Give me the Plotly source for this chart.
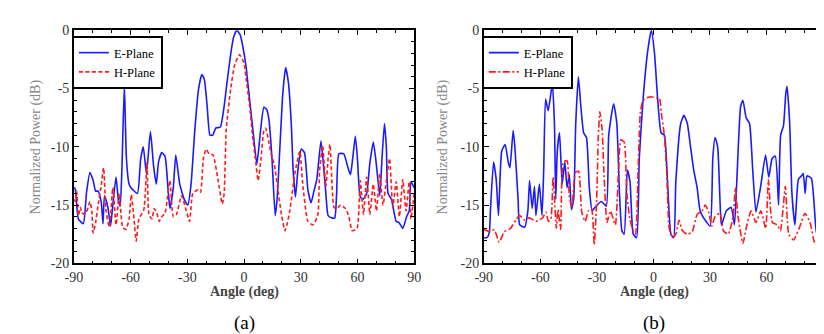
import plotly.graph_objects as go

# ---------------- data ----------------
tick_vals_x = [-90, -60, -30, 0, 30, 60, 90]
tick_text_x = ["-90", "-60", "-30", "0", "30", "60", "90"]
tick_vals_y = [-20, -15, -10, -5, 0]
tick_text_y = ["-20", "-15", "-10", "-5", "0"]

# (a) E-Plane
ang_ea = [-90, -89.3, -87.6, -85, -83.3, -81.5, -79.8, -78.5, -77.2, -75.5,
          -74.6, -73.8, -72, -70.6, -69.4, -67.7, -66.5, -65.5, -64.6, -63.3,
          -62.2, -60.8, -59.9, -56.4, -54.7, -53.3, -51.6, -49.5, -47.8, -46.4,
          -45.2, -43.5, -41.8, -40.1, -39.2, -37.4, -36.1, -34, -31.4, -29.7,
          -28, -26, -24, -22.3, -21, -19.5, -18, -16.5, -15, -12.5,
          -10.5, -9, -7, -5.5, -3.8, -2, -0.5, 1, 3, 5,
          6.8, 8.5, 10.5, 12, 13.3, 14.8, 16.5, 17.5, 19, 20.5,
          22, 23.5, 25, 26, 27.2, 28.5, 30.3, 32, 33.8, 35.5,
          37, 38.5, 40.7, 42, 43.3, 44.5, 46.5, 48, 49, 50.2,
          52.8, 54.5, 56.3, 57.5, 58.9, 60, 61.5, 63, 64.9, 66.5,
          68.4, 70, 71.8, 73, 74.3, 75.3, 76.2, 78, 80.5, 82,
          84, 86, 87.4, 88.3, 90]
val_ea = [-13.5, -13.6, -16.2, -16.6, -13.9, -12.2, -12.9, -13.8, -13.8, -14.8,
          -16.6, -14.2, -15.2, -16.8, -15, -12.6, -14.5, -15.1, -12, -4.7,
          -11, -13.2, -13.5, -14.0, -11.1, -10, -12.3, -8.7, -11.7, -13.2,
          -11.3, -10.5, -10.8, -13.8, -15.3, -13.5, -10.7, -13.2, -14.6, -15,
          -13.2, -8.5, -5, -3.8, -4.2, -6.5, -9, -9, -8.4, -8.3,
          -6.5, -4.5, -2, -0.6, 0, -0.4, -1.5, -3, -6, -9,
          -11.5, -9, -6.6, -6.8, -7.8, -11, -15.9, -14.5, -10, -5.5,
          -3.2, -4.5, -8, -12, -14.3, -12, -10.2, -10.5, -13.7, -14.8,
          -13.8, -12.8, -9.5, -11.5, -14, -15.9, -16.1, -16.1, -14, -10.6,
          -10.6, -11.5, -12.4, -11, -9.1, -11, -14.3, -14.5, -14, -11.5,
          -9.6, -11.5, -14.2, -11, -8.0, -10, -14, -14.5, -16.4, -16.5,
          -17, -16, -15.5, -13, -13.5]

# (a) H-Plane
ang_ha = [-90, -89.3, -88.5, -87.6, -86.5, -85.9, -84.5, -83.3, -81.5, -80.5,
          -79.8, -78.5, -77.2, -75.5, -74.3, -72.9, -71.2, -69.4, -67.7, -66,
          -64.2, -62.5, -60.8, -59.6, -58.2, -57, -55.6, -53, -51.3, -50.3,
          -48.7, -47.5, -46.1, -44.8, -43.5, -41.8, -39.2, -37.4, -35.7, -33.1,
          -30.5, -28.8, -27.1, -24.5, -23, -21.5, -20, -18.5, -16.4, -13.8,
          -11.5, -10.5, -9.4, -7, -5, -2.4, 0, 1, 3, 4.5,
          6, 7.5, 9, 10.5, 11.5, 13, 14.5, 16, 18.2, 20,
          21.7, 23, 24.3, 26.9, 29.5, 31.2, 33.8, 36.4, 39, 40,
          41.6, 43.3, 44.5, 45.5, 47.6, 49, 51.1, 53.7, 55.5, 57.2,
          59.8, 61.5, 63.2, 64.9, 66.6, 68.4, 70.1, 71.8, 73.5, 75.3,
          77, 78.7, 80.5, 82.2, 84, 85.7, 87.4, 88.3, 90]
val_ha = [-14.5, -14.7, -13.8, -15.9, -15.2, -15.6, -15.8, -15.6, -14.7, -15.5,
          -17.4, -16.5, -15, -13.3, -11.8, -15.6, -16.9, -13.5, -16.7, -14,
          -16.9, -17.1, -16.2, -14.1, -16.2, -18.1, -16.2, -15.4, -11.3, -15.8,
          -16.2, -15.3, -15.7, -16.4, -16, -15.7, -12.9, -16, -15.8, -14.2,
          -15.5, -16.4, -14, -13.7, -13.9, -11, -10.2, -10.6, -10.7, -12.8,
          -14.9, -14, -8.5, -5, -3, -2.1, -2.8, -4, -6.5, -9,
          -11, -12.9, -11, -8.6, -8.4, -9.5, -10.7, -11.5, -14, -16,
          -17.2, -16.5, -15.4, -12.3, -10.4, -13.4, -16.4, -16.7, -15.9, -12,
          -9.9, -13.4, -11, -9.8, -15.2, -15.3, -15.0, -15.3, -16, -17.2,
          -17, -12.9, -15.8, -12.6, -15.8, -13.2, -15.5, -12.3, -15, -13,
          -11.0, -15.2, -13, -16, -12.8, -15.5, -13, -16.2, -14]

# (b) E-Plane
ang_eb = [-90, -88.3, -87, -86.5, -84.8, -83.4, -82.2, -80.5, -78.7, -77,
          -76.1, -74.4, -73.5, -71.8, -70.9, -68.3, -66.6, -65.7, -64.3, -63.1,
          -62.3, -60.5, -59.1, -58.2, -57.2, -55.8, -53.6, -52.5, -51.8, -51,
          -49.8, -48.4, -47, -45.8, -44.6, -43.5, -42.3, -41.2, -39.8, -38.5,
          -37, -35.5, -34, -32.5, -31, -27.6, -25, -23.7, -21.1, -19.4,
          -18, -16.7, -15.5, -13.8, -12.4, -10.7, -8.9, -7.5, -5.5, -3.2,
          -1.1, 0.6, 2.3, 4.1, 5.8, 7.5, 9.3, 10.8, 11.9, 14.5,
          16.2, 18, 19.7, 21.4, 23.2, 24.8, 27.5, 30.1, 31.5, 32.7,
          34.1, 35.3, 36.1, 38.7, 41.3, 43, 44.5, 46.3, 47.5, 49.2,
          51, 52.7, 54.4, 56.9, 59.5, 61.2, 63, 64.7, 66.4, 67.5,
          69, 70.2, 70.9, 72.3, 73.5, 75.1, 76.9, 78.5, 79.5, 80.5,
          81.5, 83.8, 86.4, 88, 90]
val_eb = [-17.8, -17.8, -17.3, -15.6, -11.3, -12.8, -15.9, -10.4, -9.8, -11.3,
          -11.8, -8.6, -10, -14.5, -16.7, -16.9, -15.5, -12.9, -15.3, -13.4,
          -15.9, -13.2, -15.9, -12, -5.9, -6.9, -4.6, -8, -14.5, -10.4,
          -8.8, -13.2, -11.3, -13.5, -12.4, -15.4, -14.5, -8, -4.0, -6.5,
          -8.8, -9.2, -13.5, -15.5, -15.2, -14.7, -15.1, -9, -6.3, -8,
          -14, -17.2, -17.5, -12, -13, -17.5, -17.8, -11, -6, -2,
          0, -2, -6, -8.8, -9, -13, -17.5, -17.8, -13, -8,
          -7.3, -8, -10, -12, -13.5, -15.5, -16.3, -16.8, -11, -9.2,
          -10, -14.5, -16.7, -15.5, -15.2, -16.7, -12, -6.5, -6, -7.5,
          -8, -12, -15.6, -13.4, -10.7, -12.6, -11, -10.8, -15.0, -9,
          -8.2, -5.5, -4.8, -8, -14, -16.7, -12.8, -12.5, -12.3, -14,
          -12.5, -12.7, -17.4, -13, -12.3]

# (b) H-Plane
ang_hb = [-90, -88.3, -86.5, -84.4, -81.8, -79.2, -75.8, -72.7, -70.9, -68.3,
          -65.7, -62.3, -58.8, -57, -55.7, -54.4, -53.2, -51.5, -50.6, -49.2,
          -47.8, -45.8, -44.6, -43.2, -41.4, -39.7, -38, -36.2, -34.5, -32.8,
          -31.4, -30.2, -29.2, -28.4, -27.2, -26.3, -24.6, -22.8, -20.2, -18.5,
          -17.3, -15.5, -14.1, -12.4, -10.7, -9.5, -8.1, -6.9, -5.5, -3.7,
          -1.1, 1.5, 3.2, 4.1, 5.8, 7, 8.4, 10.2, 11.9, 13.6,
          15.4, 18, 20.6, 23.2, 25.8, 27.5, 29.3, 31, 32.7, 35.3,
          37.1, 39.7, 42.3, 43.5, 44.9, 47.5, 49.2, 51.8, 54.4, 57,
          59.6, 61, 63.1, 65.7, 67.4, 70, 71.8, 74.4, 77.8, 80.4,
          83.1, 85.7, 88.3, 90]
val_hb = [-17.1, -17.2, -17.3, -17.1, -18.2, -17.3, -17, -16.2, -15.9, -16.3,
          -16.1, -16.4, -16.1, -15.6, -16.4, -16.2, -12.6, -17, -15.4, -17.1,
          -11.3, -11.2, -14.3, -15.2, -12.2, -12.1, -15.6, -16.4, -15.5, -15.3,
          -18.4, -15, -9, -7, -8.5, -12, -16.5, -15.5, -16.7, -12,
          -9.4, -9.6, -14, -16.3, -17.2, -17.5, -12, -7, -6, -5.8,
          -5.7, -5.8, -5.8, -7, -9, -12, -17, -17.8, -17.5, -16.3,
          -17.2, -17.5, -17.3, -15.8, -15.5, -15, -15.6, -16.8, -16, -15.7,
          -17.2, -17.5, -16, -13.5, -16, -18.3, -17, -15.5, -16.5, -15.5,
          -17, -12.8, -16.5, -16.7, -17.2, -13.4, -17.5, -18, -16.8, -15.7,
          -16.5, -18.3, -18.5, -17.5]

# ---------------- figure ----------------
FONT = "Times New Roman, Liberation Serif, Tinos, DejaVu Serif, serif"
BLUE = "#1a1aff"
RED = "#ff1a1a"

fig = go.Figure()
fig.add_trace(go.Scatter(x=ang_ea, y=val_ea, name="E-Plane", mode="lines",
                         line=dict(color=BLUE, width=1.6, shape="spline", smoothing=0.5),
                         xaxis="x", yaxis="y", legend="legend"))
fig.add_trace(go.Scatter(x=ang_ha, y=val_ha, name="H-Plane", mode="lines",
                         line=dict(color=RED, width=1.6, dash="4px,2.5px", shape="spline", smoothing=0.5),
                         xaxis="x", yaxis="y", legend="legend"))
fig.add_trace(go.Scatter(x=ang_eb, y=val_eb, name="E-Plane", mode="lines",
                         line=dict(color=BLUE, width=1.6, shape="spline", smoothing=0.5),
                         xaxis="x2", yaxis="y2", legend="legend2"))
fig.add_trace(go.Scatter(x=ang_hb, y=val_hb, name="H-Plane", mode="lines",
                         line=dict(color=RED, width=1.6, dash="7px,2.5px,2px,2.5px", shape="spline", smoothing=0.5),
                         xaxis="x2", yaxis="y2", legend="legend2"))

W, H = 824, 334
ydom = [1 - 260 / H, 1 - 16 / H]


def xax(domain, anchor):
    return dict(domain=domain, anchor=anchor, range=[-90, 90], tickvals=tick_vals_x, ticktext=tick_text_x,
                showline=True, linecolor="black", linewidth=1.5, mirror="ticks", ticks="inside",
                ticklen=5, tickwidth=1.3, tickcolor="black", showgrid=False, zeroline=False,
                tickfont=dict(family=FONT, size=14, color="#333"),
                minor=dict(dtick=10, tick0=-90, ticks="inside", ticklen=3, tickwidth=1.1, tickcolor="black", showgrid=False))


def yax(anchor):
    return dict(domain=ydom, anchor=anchor, range=[-20, 0], tickvals=tick_vals_y, ticktext=tick_text_y,
                showline=True, linecolor="black", linewidth=1.5, mirror="ticks", ticks="inside",
                ticklen=5, tickwidth=1.3, tickcolor="black", showgrid=False, zeroline=False,
                tickfont=dict(family=FONT, size=14, color="#333"),
                minor=dict(dtick=1, tick0=0, ticks="inside", ticklen=3, tickwidth=1.1, tickcolor="black", showgrid=False))


legend_common = dict(bordercolor="black", borderwidth=2, bgcolor="white",
                     font=dict(family=FONT, size=12.5, color="black"),
                     xanchor="left", yanchor="top", tracegroupgap=0, itemwidth=30)

fig.update_layout(
    width=W, height=H, margin=dict(l=0, r=0, t=0, b=0),
    paper_bgcolor="white", plot_bgcolor="white",
    xaxis=xax([58 / W, 405 / W], "y"),
    yaxis=yax("x"),
    xaxis2=xax([476 / W, 822 / W], "y2"),
    yaxis2=yax("x2"),
    legend=dict(x=56 / W, y=1 - 22 / H, **legend_common),
    legend2=dict(x=474 / W, y=1 - 22 / H, **legend_common),
    showlegend=True,
)

ann = []
for xc in (19, 434):
    ann.append(dict(text="Normalized Power (dB)", x=xc / W, y=1 - 138 / H, xref="paper", yref="paper",
                    textangle=-90, showarrow=False, xanchor="center", yanchor="middle",
                    font=dict(family=FONT, size=14, color="#888")))
for xc, lab in ((232, "(a)"), (650, "(b)")):
    ann.append(dict(text="<b>Angle (deg)</b>", x=xc / W, y=1 - 290 / H, xref="paper", yref="paper",
                    showarrow=False, xanchor="center", yanchor="middle",
                    font=dict(family=FONT, size=14, color="#444")))
    ann.append(dict(text=lab, x=xc / W, y=1 - 322 / H, xref="paper", yref="paper",
                    showarrow=False, xanchor="center", yanchor="middle",
                    font=dict(family=FONT, size=19, color="black")))
fig.update_layout(annotations=ann)

fig.write_html("out.html")
